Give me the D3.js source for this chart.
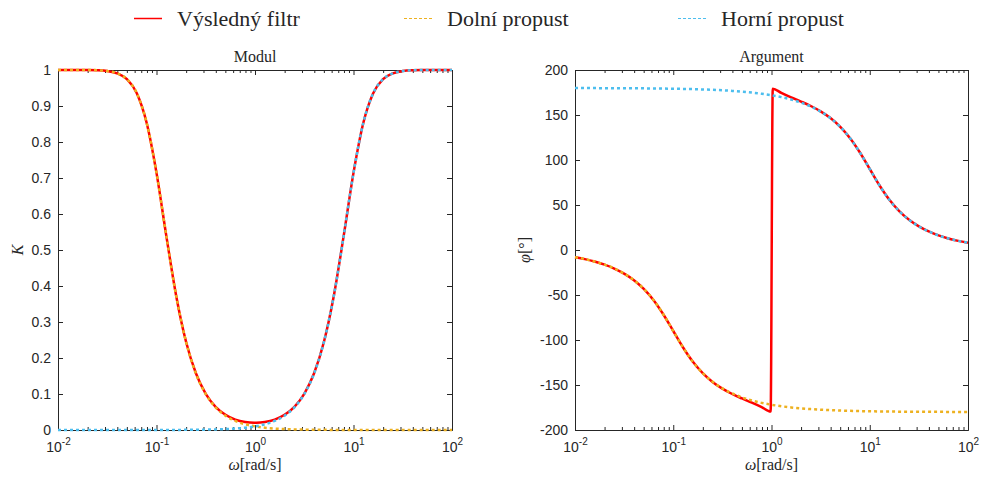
<!DOCTYPE html>
<html>
<head>
<meta charset="utf-8">
<script src="https://cdnjs.cloudflare.com/ajax/libs/d3/7.8.5/d3.min.js"></script>
<style>
  body { margin: 0; background: #fff; }
  svg { display: block; }
</style>
</head>
<body>
<svg id="chart" width="982" height="477"></svg>
<script>
// frequencies, 10 points per decade (rad/s)
var freq = [0.01, 0.0126, 0.0158, 0.0200, 0.0251, 0.0316, 0.0398, 0.0501, 0.0631, 0.0794,
  0.1, 0.1259, 0.1585, 0.1995, 0.2512, 0.3162, 0.3981, 0.5012, 0.6310, 0.7943,
  1, 1.2589, 1.5849, 1.9953, 2.5119, 3.1623, 3.9811, 5.0119, 6.3096, 7.9433,
  10, 12.589, 15.849, 19.953, 25.119, 31.623, 39.811, 50.119, 63.096, 79.433, 100];

// dolni propust (low pass)
var lpMag = [1.0000, 1.0002, 1.0002, 1.0000, 0.9993, 0.9970, 0.9907, 0.9745, 0.9355, 0.8535,
  0.7143, 0.5385, 0.3724, 0.2448, 0.1570, 0.0997, 0.0631, 0.0398, 0.0251, 0.0159,
  0.0100, 0.0063, 0.0040, 0.0025, 0.0016, 0.0010, 0.0006, 0.0004, 0.0003, 0.0002,
  0.0001, 0.0001, 0.0000, 0.0000, 0.0000, 0.0000, 0.0000, 0.0000, 0.0000, 0.0000, 0.0000];
var lpPhase = [-8.05, -10.15, -12.82, -16.22, -20.57, -26.20, -33.52, -43.14, -55.73, -71.64,
  -90.00, -108.36, -124.27, -136.86, -146.48, -153.80, -159.43, -163.78, -167.18, -169.85,
  -171.95, -173.61, -174.93, -175.98, -176.80, -177.46, -177.98, -178.40, -178.73, -178.99,
  -179.20, -179.36, -179.49, -179.60, -179.68, -179.75, -179.80, -179.84, -179.87, -179.90, -179.92];

// horni propust (high pass)
var hpMag = [0.0000, 0.0000, 0.0000, 0.0000, 0.0000, 0.0000, 0.0000, 0.0000, 0.0000, 0.0001,
  0.0001, 0.0002, 0.0003, 0.0004, 0.0006, 0.0010, 0.0016, 0.0025, 0.0040, 0.0063,
  0.0100, 0.0159, 0.0251, 0.0398, 0.0631, 0.0997, 0.1570, 0.2448, 0.3724, 0.5385,
  0.7143, 0.8535, 0.9355, 0.9745, 0.9907, 0.9970, 0.9993, 1.0000, 1.0002, 1.0002, 1.0000];
var hpPhase = [179.92, 179.90, 179.87, 179.84, 179.80, 179.75, 179.68, 179.60, 179.49, 179.36,
  179.20, 178.99, 178.73, 178.40, 177.98, 177.46, 176.80, 175.98, 174.93, 173.61,
  171.95, 169.85, 167.18, 163.78, 159.43, 153.80, 146.48, 136.86, 124.27, 108.36,
  90.00, 71.64, 55.73, 43.14, 33.52, 26.20, 20.57, 16.22, 12.82, 10.15, 8.05];

// vysledny filtr (sum), extra points either side of w = 1
var resFreq = [0.01, 0.0126, 0.0158, 0.0200, 0.0251, 0.0316, 0.0398, 0.0501, 0.0631, 0.0794,
  0.1, 0.1259, 0.1585, 0.1995, 0.2512, 0.3162, 0.3981, 0.5012, 0.6310, 0.7943,
  0.98, 1.03,
  1.2589, 1.5849, 1.9953, 2.5119, 3.1623, 3.9811, 5.0119, 6.3096, 7.9433,
  10, 12.589, 15.849, 19.953, 25.119, 31.623, 39.811, 50.119, 63.096, 79.433, 100];
var resMag = [1.0000, 1.0002, 1.0002, 1.0000, 0.9993, 0.9970, 0.9907, 0.9745, 0.9355, 0.8535,
  0.7143, 0.5385, 0.3724, 0.2450, 0.1575, 0.1006, 0.0645, 0.0422, 0.0289, 0.0220,
  0.0198, 0.0198,
  0.0220, 0.0289, 0.0422, 0.0645, 0.1006, 0.1575, 0.2450, 0.3724, 0.5385,
  0.7143, 0.8535, 0.9355, 0.9745, 0.9907, 0.9970, 0.9993, 1.0000, 1.0002, 1.0002, 1.0000];
var resPhase = [-8.05, -10.15, -12.82, -16.22, -20.57, -26.20, -33.52, -43.14, -55.73, -71.64,
  -90.00, -108.36, -124.27, -136.91, -146.62, -154.07, -160.00, -164.96, -169.60, -174.54,
  -179.54, 179.29,
  174.54, 169.60, 164.96, 160.00, 154.07, 146.62, 136.91, 124.27, 108.36,
  90.00, 71.64, 55.73, 43.14, 33.52, 26.20, 20.57, 16.22, 12.82, 10.15, 8.05];

var magTicks = [0, 0.1, 0.2, 0.3, 0.4, 0.5, 0.6, 0.7, 0.8, 0.9, 1];
var phaseTicks = [-200, -150, -100, -50, 0, 50, 100, 150, 200];
var decadeExps = [-2, -1, 0, 1, 2];

var legendItems = [
  { name: "Výsledný filtr", color: "#ff0000", dash: null },
  { name: "Dolní propust", color: "#edb120", dash: "3,2" },
  { name: "Horní propust", color: "#4dbeee", dash: "3,2" }
];

var axisColor = "#262626";
var serif = "'Liberation Serif', 'DejaVu Serif', serif";
var sans = "'Liberation Sans', Arial, sans-serif";

var svg = d3.select("#chart");

var zip = function(xs, ys) { return xs.map((d, i) => [d, ys[i]]); };

var majorX = decadeExps.map(e => Math.pow(10, e));
var minorX = [];
decadeExps.slice(0, -1).forEach(e => {
  for (var k = 2; k <= 9; k++) { minorX.push(k * Math.pow(10, e)); }
});

var panel = function(left, right, yDomain, yTicks, title, yLabelParts, yLabelGap, series) {
  var top = 70, bottom = 430;
  var x = d3.scaleLog().domain([0.01, 100]).range([left, right]);
  var y = d3.scaleLinear().domain(yDomain).range([bottom, top]);
  var g = svg.append("g").attr("color", axisColor);

  var addAxis = function(axis, tx, ty) {
    var a = g.append("g")
      .attr("transform", "translate(" + tx + "," + ty + ")")
      .call(axis);
    a.select(".domain").attr("stroke-width", 1);
    return a;
  };

  // major + minor ticks on all four sides, pointing inward
  addAxis(d3.axisBottom(x).tickValues(majorX).tickSize(-5).tickSizeOuter(0).tickFormat(""), 0, bottom);
  addAxis(d3.axisBottom(x).tickValues(minorX).tickSize(-3).tickSizeOuter(0).tickFormat(""), 0, bottom);
  addAxis(d3.axisTop(x).tickValues(majorX).tickSize(-5).tickSizeOuter(0).tickFormat(""), 0, top);
  addAxis(d3.axisTop(x).tickValues(minorX).tickSize(-3).tickSizeOuter(0).tickFormat(""), 0, top);
  var yl = addAxis(d3.axisLeft(y).tickValues(yTicks).tickSize(-5).tickSizeOuter(0).tickPadding(7)
    .tickFormat(d => String(d)), left, 0);
  addAxis(d3.axisRight(y).tickValues(yTicks).tickSize(-5).tickSizeOuter(0).tickFormat(""), right, 0);

  yl.selectAll("text")
    .attr("font-family", sans)
    .attr("font-size", 14)
    .attr("fill", axisColor);

  // decade labels 10^n
  var xl = g.append("g")
    .attr("font-family", sans)
    .attr("font-size", 14)
    .attr("fill", axisColor)
    .attr("text-anchor", "middle");
  decadeExps.forEach(e => {
    var t = xl.append("text")
      .attr("x", x(Math.pow(10, e)) + 0.5)
      .attr("y", 452);
    t.append("tspan").text("10");
    t.append("tspan")
      .attr("font-size", 10)
      .attr("dy", -7)
      .text(e);
  });

  // title
  g.append("text")
    .attr("x", (left + right) / 2)
    .attr("y", 62)
    .attr("text-anchor", "middle")
    .attr("font-family", serif)
    .attr("font-size", 16)
    .attr("fill", axisColor)
    .text(title);

  // x label
  var xt = g.append("text")
    .attr("x", (left + right) / 2)
    .attr("y", 470)
    .attr("text-anchor", "middle")
    .attr("font-family", serif)
    .attr("font-size", 16)
    .attr("fill", axisColor);
  xt.append("tspan").attr("font-style", "italic").text("ω");
  xt.append("tspan").text("[rad/s]");

  // y label
  var yt = g.append("text")
    .attr("transform", "translate(" + (left - yLabelGap) + "," + ((top + bottom) / 2) + ") rotate(-90)")
    .attr("text-anchor", "middle")
    .attr("font-family", serif)
    .attr("font-size", 16)
    .attr("fill", axisColor);
  yLabelParts.forEach(p => {
    yt.append("tspan").attr("font-style", p[1] ? "italic" : "normal").text(p[0]);
  });

  var line = d3.line()
    .x(d => x(d[0]))
    .y(d => y(d[1]))
    .curve(d3.curveMonotoneX);

  series.forEach(s => {
    g.append("path")
      .attr("fill", "none")
      .attr("stroke", s.color)
      .attr("stroke-width", s.width)
      .attr("stroke-dasharray", s.dash)
      .attr("stroke-linejoin", "round")
      .attr("d", line(s.data));
  });
};

panel(58, 452, [0, 1], magTicks, "Modul", [["K", true]], 35, [
  { data: zip(resFreq, resMag), color: "#ff0000", width: 2.5, dash: null },
  { data: zip(freq, lpMag), color: "#edb120", width: 2.5, dash: "3,3" },
  { data: zip(freq, hpMag), color: "#4dbeee", width: 2.5, dash: "3,3" }
]);

panel(575, 968, [-200, 200], phaseTicks, "Argument", [["φ", true], ["[°]", false]], 45, [
  { data: zip(resFreq, resPhase), color: "#ff0000", width: 2.5, dash: null },
  { data: zip(freq, lpPhase), color: "#edb120", width: 2.5, dash: "3,3" },
  { data: zip(freq, hpPhase), color: "#4dbeee", width: 2.5, dash: "3,3" }
]);

// legend across the top
var legendX = [134, 404, 678];
var lg = svg.append("g");
legendItems.forEach((d, i) => {
  lg.append("line")
    .attr("x1", legendX[i])
    .attr("x2", legendX[i] + 28)
    .attr("y1", 18.5)
    .attr("y2", 18.5)
    .attr("stroke", d.color)
    .attr("stroke-width", d.dash ? 1 : 1.5)
    .attr("stroke-dasharray", d.dash);
  lg.append("text")
    .attr("x", legendX[i] + 43)
    .attr("y", 26)
    .attr("font-family", serif)
    .attr("font-size", 22)
    .attr("fill", axisColor)
    .text(d.name);
});
</script>
</body>
</html>
